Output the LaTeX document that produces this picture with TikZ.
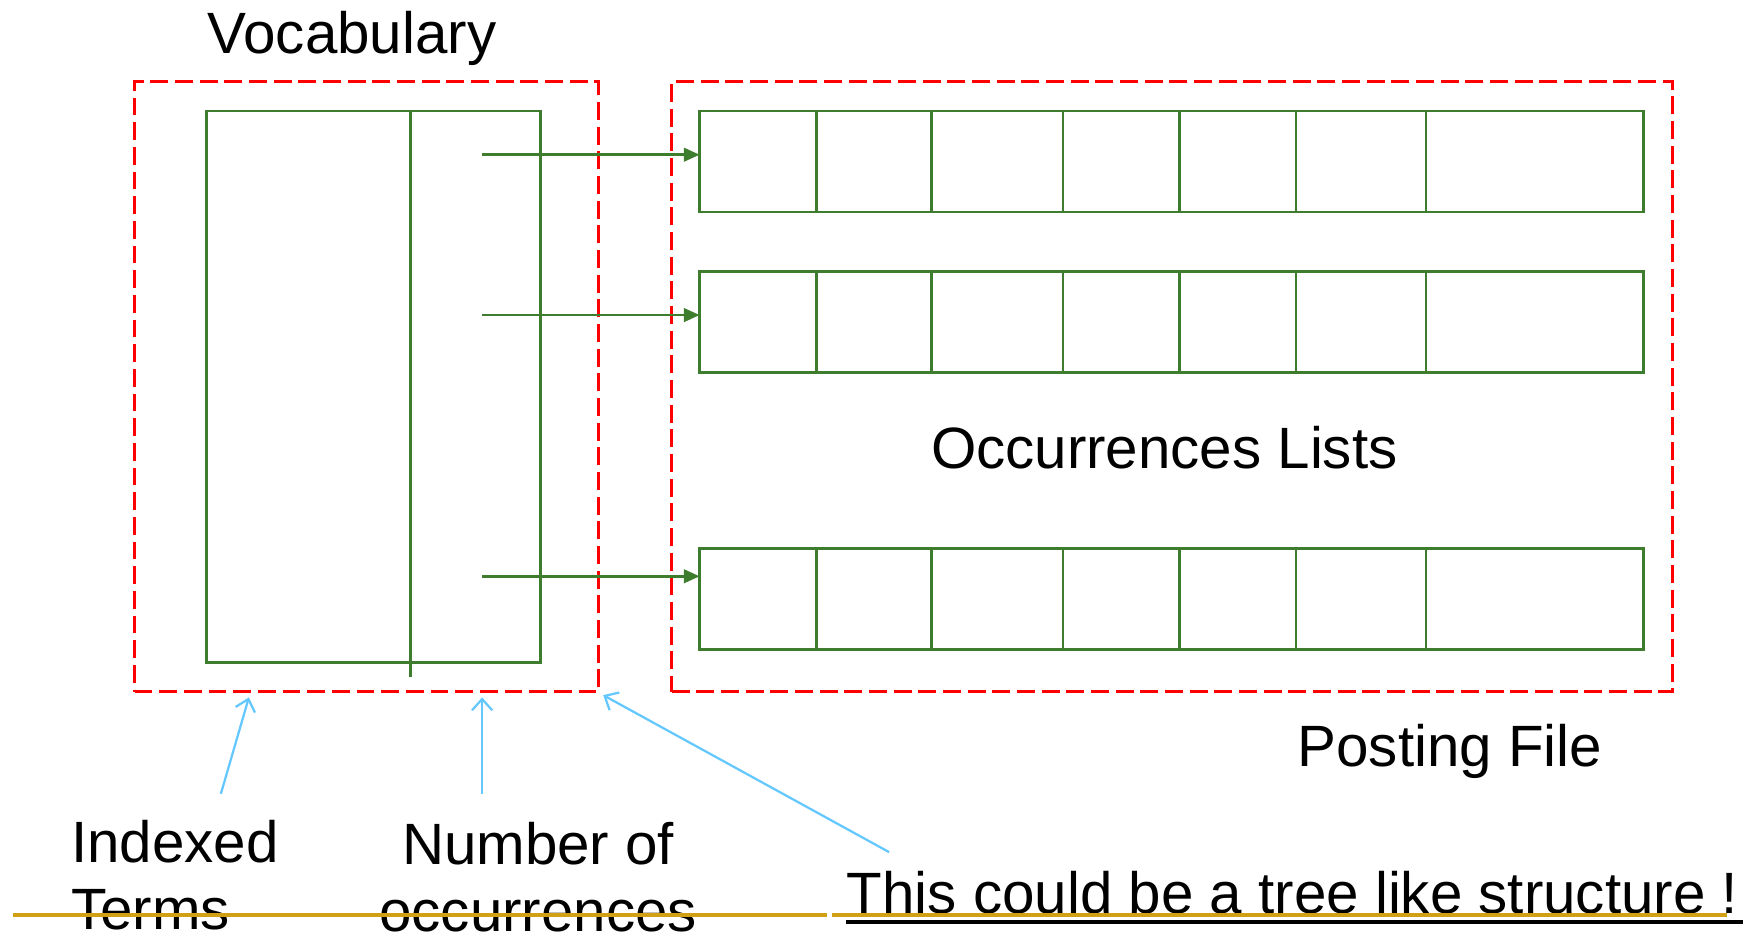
\documentclass[tikz,border=0pt]{standalone}
\usepackage{fontspec}
\setmainfont{Liberation Sans}
\usetikzlibrary{arrows.meta}
\definecolor{grn}{RGB}{61,125,45}
\definecolor{skyb}{RGB}{100,200,255}
\definecolor{gold}{RGB}{210,160,20}
\begin{document}
\begin{tikzpicture}[x=0.5pt,y=-0.5pt,
  frame/.style={draw=red,line width=1.3pt,dash pattern=on 8pt off 3pt,inner sep=0,outer sep=0,anchor=north west,minimum height=272pt},
  cell/.style={draw=grn,line width=1.2pt},
  row/.style={draw=grn,line width=1.2pt,inner sep=0,outer sep=0,minimum width=421pt,minimum height=45pt,anchor=north west},
  ptr/.style={grn,line width=1.2pt,-{Triangle[length=7pt,width=6pt]}},
  note/.style={color=skyb,line width=1pt,-{Straight Barb[length=5pt,width=9pt]}},
  lbl/.style={font=\fontsize{26}{30}\selectfont,inner sep=0,anchor=base west}]
\useasboundingbox (0,0) rectangle (1568,836);
% frames
\node[frame,minimum width=207pt] (vframe) at (120,73) {};
\node[frame,minimum width=446.5pt] (pframe) at (599,73) {};
% vocabulary table
\node[draw=grn,line width=1.2pt,inner sep=0,outer sep=0,minimum width=149pt,minimum height=246pt,anchor=north west] (voc) at (184,99) {};
\draw[cell] (366,0 |- voc.north) -- (366,604);
% posting rows
\node[row] (r1) at (624,99) {};
\node[row] (r2) at (624,242) {};
\node[row] (r3) at (624,489) {};
\foreach \r in {r1,r2,r3}{
  \foreach \c in {728,831,948,1052,1156,1272}{
    \draw[cell] (\c,0 |- \r.north) -- (\c,0 |- \r.south);
  }
}
% pointers
\coordinate (p1) at (430,138);
\coordinate (p2) at (430,281);
\coordinate (p3) at (430,514);
\draw[ptr] (p1) -- (r1.west |- p1);
\draw[ptr] (p2) -- (r2.west |- p2);
\draw[ptr] (p3) -- (r3.west |- p3);
% labels
\node[lbl] (tvoc) at (185,48) {Vocabulary};
\node[lbl] (tocc) at (830,418) {Occurrences Lists};
\node[lbl] (tpost) at (1157,684) {Posting File};
\node[lbl,align=left,anchor=north west] (tidx) at (63,731) {Indexed\\Terms};
\node[lbl,align=center,anchor=north] (tnum) at (480,733) {Number of\\occurrences};
\node[lbl] (ttree) at (755,815) {This could be a tree like structure !};
% callout arrows
\coordinate (a1) at (197,708);
\coordinate (b1) at (222,622);
\coordinate (a2) at (430,708);
\coordinate (b2) at (430,622);
\coordinate (a3) at (793,760);
\coordinate (b3) at (538,620);
\draw[note] (a1) -- (b1);
\draw[note] (a2) -- (b2);
\draw[note] (a3) -- (b3);
% underline and rule
\draw[line width=1.8pt] (755,822) -- (1555,822);
\draw[gold,line width=1.6pt] (12,816) -- (738,816);
\draw[gold,line width=1.6pt] (742,816) -- (1540,816);
\end{tikzpicture}
\end{document}
